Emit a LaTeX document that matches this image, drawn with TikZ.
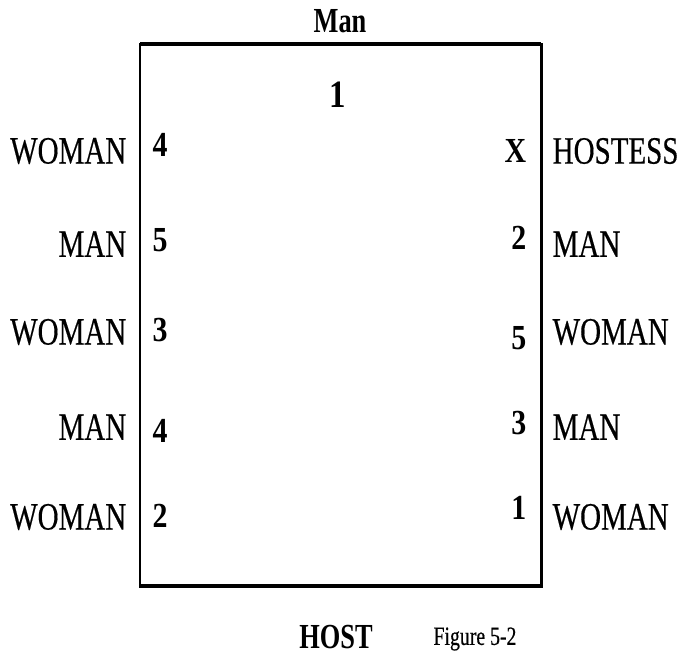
\documentclass[tikz,border=0pt]{standalone}
\usepackage{fontspec}
\setmainfont{Liberation Serif}[FakeStretch=0.75]
\newfontfamily\labfont{Liberation Serif}[FakeStretch=0.75, FakeBold=0.4]
\newfontfamily\numfont{Liberation Serif Bold}[FakeStretch=0.85]

\begin{document}
\begin{tikzpicture}[x=0.01cm, y=-0.01cm,
    lab/.style={font=\labfont\fontsize{11}{13}\selectfont, inner sep=0pt},
    num/.style={font=\numfont\fontsize{10}{12}\selectfont, inner sep=0pt},
    big/.style={font=\fontsize{10}{12}\selectfont\bfseries, inner sep=0pt}]
  \useasboundingbox (0,0) rectangle (682,656);
  % ------------------------------------------------------------------ the table
  \coordinate (tl) at (140,44);
  \coordinate (br) at (541,586);
  \draw[line width=0.85pt] (tl) rectangle (br);
  \draw[line width=1.3pt] (tl) -- (tl -| br);
  \draw[line width=1.3pt] (br -| tl) -- (br);
  \node[big] (head) at (340,21) {Man};
  \node[big] (foot) at (336,637) {HOST};
  \node[font=\labfont\fontsize{7.5}{9}\selectfont, inner sep=0pt] (fig) at (475,639) {Figure 5-2};
  \node[num, font=\numfont\fontsize{11}{13}\selectfont] (top) at (338,95) {1};
  % ------------------------------------------------------------------ left side: guest / seat
  \foreach \k/\who/\y/\seat/\sy in {1/WOMAN/151/4/145, 2/MAN/244/5/240, 3/WOMAN/332/3/330,
      4/MAN/427/4/431, 5/WOMAN/517/2/516} {
    \node[lab, anchor=east] (lg\k) at (127,\y) {\who};
    \node[num, anchor=west] (ls\k) at (152,\sy) {\seat};
  }
  % ------------------------------------------------------------------ right side: seat / guest
  \foreach \k/\who/\y/\seat/\sy in {1/HOSTESS/151/X/151, 2/MAN/244/2/238, 3/WOMAN/332/5/338,
      4/MAN/427/3/423, 5/WOMAN/517/1/508} {
    \node[num, anchor=east] (rs\k) at (527,\sy) {\seat};
    \node[lab, anchor=west] (rg\k) at (552,\y) {\who};
  }
\end{tikzpicture}
\end{document}
